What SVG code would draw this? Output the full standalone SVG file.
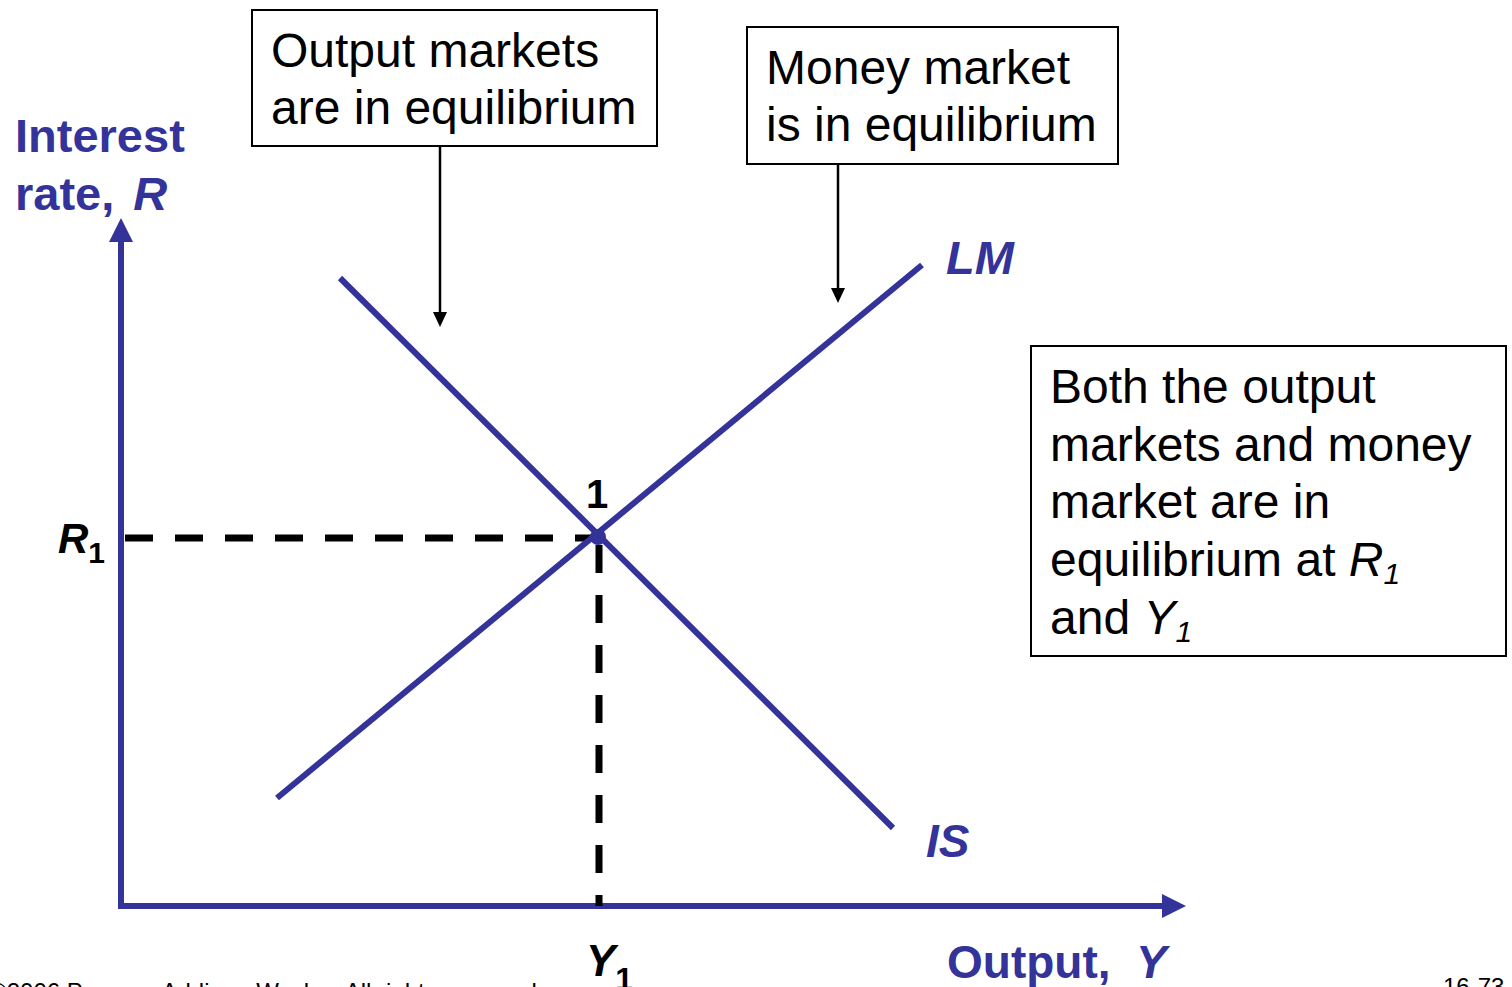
<svg xmlns="http://www.w3.org/2000/svg" width="1512" height="987" viewBox="0 0 1512 987">
<style>
text{font-family:"Liberation Sans",Arial,sans-serif}
.box{fill:#fff;stroke:#000;stroke-width:2}
.bt{font-size:48px;fill:#000}
.blue{fill:#333399;font-weight:bold}
.axis{stroke:#333399;stroke-width:6;fill:none}
.curve{stroke:#333399;stroke-width:6;fill:none}
.dash{stroke:#000;stroke-width:7;stroke-dasharray:28 22;fill:none}
.ptr{stroke:#000;stroke-width:2.5;fill:none}
.lbl{font-weight:bold;font-style:italic;fill:#000}
</style>
<rect width="1512" height="987" fill="#fff"/>

<g id="axes">
<line class="axis" x1="121" y1="909" x2="121" y2="238"/>
<polygon points="121,218 109,242 133,242" fill="#333399"/>
<line class="axis" x1="118" y1="906" x2="1165" y2="906"/>
<polygon points="1186,906 1162,894 1162,918" fill="#333399"/>
</g>

<g id="connectors">
<line class="dash" x1="125" y1="538" x2="598" y2="538"/>
<line class="dash" x1="599" y1="545" x2="599" y2="906"/>
<line class="ptr" x1="440" y1="146" x2="440" y2="312"/>
<polygon points="440,327 433,312 447,312" fill="#000"/>
<line class="ptr" x1="838" y1="164" x2="838" y2="288"/>
<polygon points="838,303 831,288 845,288" fill="#000"/>
</g>

<g id="IS">
<line class="curve" x1="340" y1="278" x2="893" y2="828"/>
<text x="926" y="857" font-size="46" class="blue" font-style="italic">IS</text>
</g>
<g id="LM">
<line class="curve" x1="277" y1="798" x2="922" y2="265"/>
<text x="946" y="274" font-size="47" class="blue" font-style="italic">LM</text>
</g>

<g id="point1">
<circle cx="598" cy="537" r="8" fill="#333399"/>
<text x="586" y="508" font-size="40" font-weight="bold" fill="#000">1</text>
</g>

<g id="ylabel">
<text x="15" y="152" font-size="47" class="blue">Interest</text>
<text x="15" y="210" font-size="47" class="blue">rate, <tspan font-style="italic" dx="6">R</tspan></text>
</g>
<g id="xlabel">
<text x="947" y="978" font-size="46" class="blue" xml:space="preserve">Output,  <tspan font-style="italic">Y</tspan></text>
</g>

<g id="R1">
<text x="58" y="553" font-size="42" class="lbl">R<tspan font-size="30" font-style="normal" dy="10">1</tspan></text>
</g>
<g id="Y1">
<text x="586" y="976" font-size="44" class="lbl">Y<tspan font-size="32" font-style="normal" dy="14">1</tspan></text>
</g>

<g id="box1">
<rect class="box" x="252" y="10" width="405" height="136"/>
<text class="bt" x="271" y="67">Output markets</text>
<text class="bt" x="271" y="124">are in equilibrium</text>
</g>
<g id="box2">
<rect class="box" x="747" y="27" width="371" height="137"/>
<text class="bt" x="766" y="84">Money market</text>
<text class="bt" x="766" y="141">is in equilibrium</text>
</g>
<g id="box3">
<rect class="box" x="1031" y="346" width="475" height="310"/>
<text class="bt" x="1050" y="403">Both the output</text>
<text class="bt" x="1050" y="461">markets and money</text>
<text class="bt" x="1050" y="518">market are in</text>
<text class="bt" x="1050" y="576">equilibrium at <tspan font-style="italic">R</tspan><tspan font-style="italic" font-size="30" dy="8">1</tspan></text>
<text class="bt" x="1050" y="634">and  <tspan font-style="italic">Y</tspan><tspan font-style="italic" font-size="30" dy="8">1</tspan></text>
</g>

<g id="footer">
<text x="-11" y="1000" font-size="24" fill="#000">©2006 Pearson Addison-Wesley. All rights reserved</text>
<text x="1443" y="995" font-size="24" fill="#000">16-73</text>
</g>
</svg>
